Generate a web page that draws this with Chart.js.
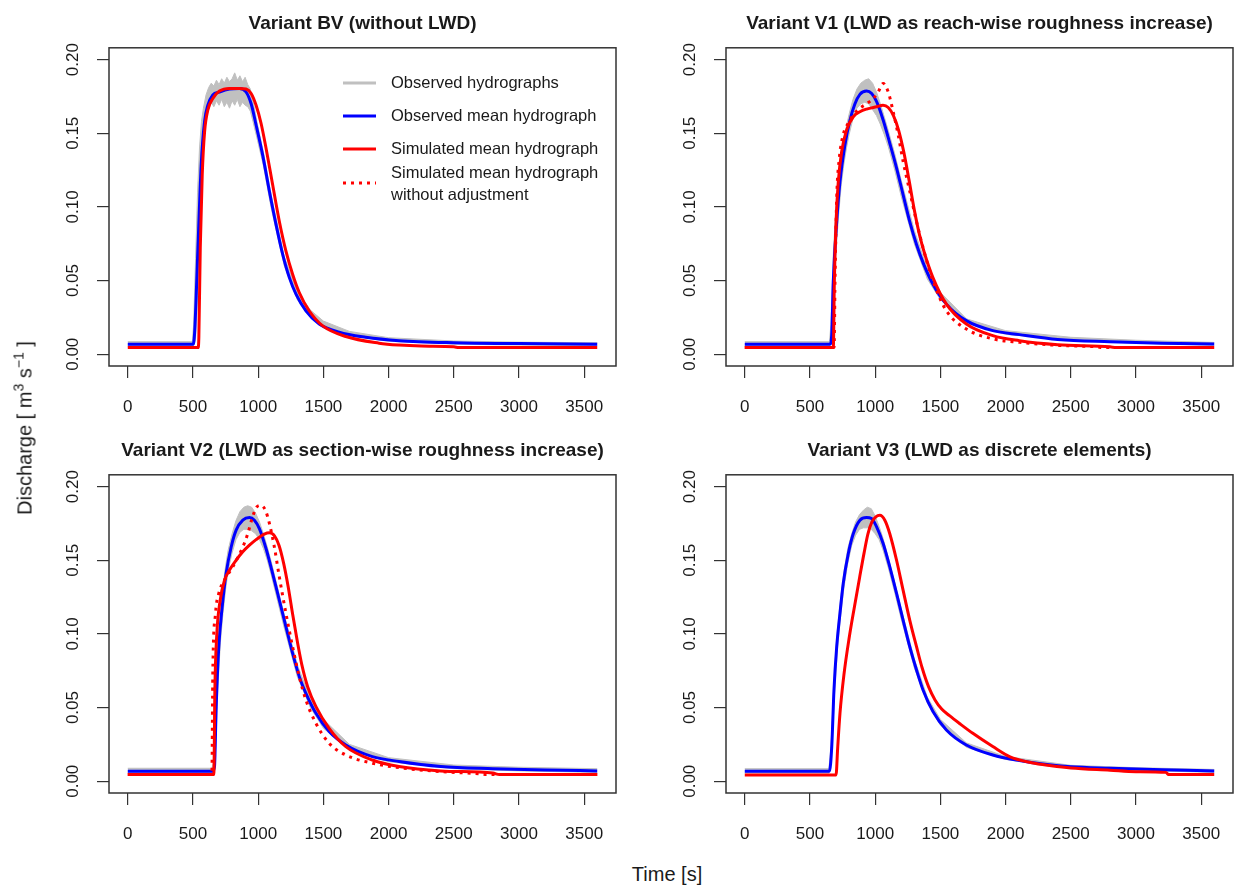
<!DOCTYPE html>
<html>
<head>
<meta charset="utf-8">
<script src="https://cdn.jsdelivr.net/npm/chart.js@4.4.1/dist/chart.umd.min.js"></script>
<style>
  body { margin: 0; background: #fff; width: 1234px; height: 885px; position: relative; overflow: hidden;
         font-family: "Liberation Sans", Arial, sans-serif; color: #1a1a1a; }
  canvas { position: absolute; }
  #yTitle { position: absolute; left: 25px; top: 428px; transform: translate(-50%, -50%) rotate(-90deg);
            font-size: 20px; white-space: nowrap; }
  #yTitle sup { font-size: 0.7em; vertical-align: 0.55em; line-height: 0; }
  #xTitle { position: absolute; left: 667px; top: 874px; transform: translate(-50%, -50%); font-size: 20px; white-space: nowrap; }
</style>
</head>
<body>
<canvas id="pBV" width="617" height="427" style="left:0;top:0"></canvas>
<canvas id="pV1" width="617" height="427" style="left:617px;top:0"></canvas>
<canvas id="pV2" width="617" height="427" style="left:0;top:427px"></canvas>
<canvas id="pV3" width="617" height="427" style="left:617px;top:427px"></canvas>
<div id="yTitle">Discharge [ m<sup>3</sup> s<sup>−1</sup> ]</div>
<div id="xTitle">Time [s]</div>
<script>
// axis ticks (time in s, discharge in m3/s)
const xTicks = [0, 500, 1000, 1500, 2000, 2500, 3000, 3500];
const yTicks = [0, 0.05, 0.10, 0.15, 0.20];

const titles = [
  "Variant BV (without LWD)",
  "Variant V1 (LWD as reach-wise roughness increase)",
  "Variant V2 (LWD as section-wise roughness increase)",
  "Variant V3 (LWD as discrete elements)"
];
const legendLabels = ["Observed hydrographs", "Observed mean hydrograph", "Simulated mean hydrograph",
                      "Simulated mean hydrograph", "without adjustment"];

// ---- Variant BV ----
const bvBandT = [0, 495, 505, 520, 535, 550, 565, 580, 600, 620, 640, 660, 680, 700, 720, 740, 760, 780, 800, 820, 840, 860, 880, 900, 920, 940, 960, 990, 1040, 1100, 1200, 1300, 1400, 1500, 1700, 2000, 2500, 3000, 3600];
const bvBandHi = [0.0085, 0.0085, 0.02, 0.065, 0.11, 0.14, 0.158, 0.167, 0.176, 0.181, 0.184, 0.182, 0.186, 0.183, 0.187, 0.184, 0.188, 0.185, 0.187, 0.191, 0.186, 0.189, 0.185, 0.188, 0.183, 0.18, 0.172, 0.158, 0.137, 0.108, 0.066, 0.043, 0.030, 0.0225, 0.0155, 0.0112, 0.009, 0.0082, 0.0078];
const bvBandLo = [0.005, 0.005, 0.006, 0.01, 0.04, 0.08, 0.12, 0.145, 0.16, 0.166, 0.171, 0.168, 0.172, 0.169, 0.173, 0.168, 0.171, 0.167, 0.172, 0.169, 0.173, 0.168, 0.171, 0.169, 0.168, 0.165, 0.158, 0.147, 0.128, 0.099, 0.060, 0.037, 0.025, 0.0178, 0.0125, 0.0088, 0.0068, 0.0062, 0.0058];
const bvMeanT = [0, 500, 512, 538, 563, 589, 614, 652, 703, 780, 856, 907, 946, 984, 1035, 1086, 1137, 1188, 1239, 1290, 1366, 1468, 1621, 1825, 2080, 2500, 3000, 3600];
const bvMeanQ = [0.0068, 0.0068, 0.0137, 0.0723, 0.1286, 0.158, 0.169, 0.176, 0.178, 0.180, 0.1804, 0.178, 0.170, 0.1556, 0.135, 0.1106, 0.088, 0.0678, 0.052, 0.0408, 0.0295, 0.0205, 0.0149, 0.0115, 0.0092, 0.0078, 0.0072, 0.0068];
const bvSimT = [0, 540, 545, 556, 571, 589, 614, 652, 703, 780, 856, 907, 946, 984, 1022, 1060, 1111, 1162, 1213, 1264, 1315, 1391, 1493, 1672, 1927, 2080, 2250, 2500, 2540, 3600];
const bvSimQ = [0.0045, 0.0045, 0.0115, 0.0723, 0.1218, 0.151, 0.1658, 0.1736, 0.1786, 0.1804, 0.1804, 0.180, 0.177, 0.169, 0.1568, 0.140, 0.115, 0.0903, 0.070, 0.0543, 0.0419, 0.0295, 0.0194, 0.012, 0.0075, 0.0062, 0.0055, 0.005, 0.0045, 0.0045];

// ---- Variant V1 ----
const v1BandT = [0, 650, 660, 670, 680, 700, 720, 740, 760, 780, 800, 830, 860, 890, 920, 950, 980, 1010, 1040, 1070, 1100, 1150, 1200, 1300, 1400, 1500, 1700, 2000, 2500, 3000, 3600];
const v1BandHi = [0.0085, 0.0085, 0.02, 0.045, 0.07, 0.1, 0.12, 0.135, 0.146, 0.155, 0.163, 0.173, 0.18, 0.184, 0.186, 0.187, 0.184, 0.178, 0.170, 0.161, 0.152, 0.136, 0.118, 0.084, 0.058, 0.042, 0.024, 0.016, 0.0115, 0.0095, 0.008];
const v1BandLo = [0.0055, 0.0055, 0.007, 0.012, 0.035, 0.07, 0.095, 0.115, 0.129, 0.140, 0.149, 0.160, 0.167, 0.170, 0.171, 0.170, 0.166, 0.162, 0.156, 0.149, 0.141, 0.125, 0.107, 0.075, 0.051, 0.037, 0.021, 0.0135, 0.0095, 0.0075, 0.006];
const v1MeanT = [0, 654, 667, 679, 705, 730, 768, 807, 845, 883, 934, 973, 1011, 1061, 1112, 1164, 1214, 1265, 1317, 1367, 1443, 1546, 1699, 1902, 2106, 2400, 2800, 3200, 3600];
const v1MeanQ = [0.0068, 0.0068, 0.0137, 0.0498, 0.090, 0.117, 0.142, 0.159, 0.170, 0.1764, 0.1786, 0.177, 0.1714, 0.159, 0.1432, 0.1264, 0.1083, 0.090, 0.0745, 0.0622, 0.0475, 0.034, 0.0228, 0.016, 0.0133, 0.010, 0.0085, 0.0075, 0.007];
const v1SimT = [0, 679, 687, 700, 717, 743, 781, 832, 883, 934, 1011, 1060, 1100, 1140, 1180, 1220, 1260, 1300, 1340, 1380, 1443, 1546, 1699, 1902, 2106, 2400, 2800, 2850, 3600];
const v1SimQ = [0.0045, 0.0045, 0.0498, 0.090, 0.117, 0.1376, 0.1523, 0.1612, 0.1646, 0.1664, 0.168, 0.169, 0.1675, 0.162, 0.152, 0.137, 0.118, 0.098, 0.081, 0.068, 0.052, 0.034, 0.0205, 0.0126, 0.0092, 0.0065, 0.005, 0.0045, 0.0045];
const v1RawT = [0, 685, 692, 705, 725, 755, 794, 832, 883, 934, 985, 1023, 1061, 1100, 1138, 1176, 1214, 1265, 1317, 1367, 1443, 1546, 1699, 1902, 2106, 2400, 2700, 2750, 3600];
const v1RawQ = [0.0045, 0.0045, 0.0498, 0.106, 0.133, 0.149, 0.157, 0.1624, 0.167, 0.170, 0.1736, 0.178, 0.1838, 0.178, 0.1646, 0.149, 0.131, 0.1106, 0.090, 0.0723, 0.0498, 0.0295, 0.0171, 0.0104, 0.0081, 0.006, 0.005, 0.0045, 0.0045];

// ---- Variant V2 ----
const v2BandT = [0, 645, 655, 665, 675, 690, 710, 730, 750, 770, 800, 830, 860, 890, 920, 950, 980, 1010, 1040, 1070, 1100, 1150, 1200, 1300, 1400, 1500, 1700, 2000, 2500, 3000, 3600];
const v2BandHi = [0.0088, 0.0088, 0.012, 0.03, 0.06, 0.09, 0.115, 0.132, 0.146, 0.157, 0.168, 0.177, 0.183, 0.186, 0.187, 0.186, 0.182, 0.176, 0.168, 0.159, 0.149, 0.131, 0.113, 0.079, 0.056, 0.042, 0.025, 0.016, 0.011, 0.0095, 0.0085];
const v2BandLo = [0.0055, 0.0055, 0.0058, 0.007, 0.025, 0.062, 0.094, 0.114, 0.13, 0.143, 0.155, 0.164, 0.169, 0.171, 0.171, 0.170, 0.168, 0.164, 0.158, 0.150, 0.140, 0.122, 0.104, 0.071, 0.050, 0.036, 0.021, 0.0132, 0.0085, 0.007, 0.006];
const v2MeanT = [0, 652, 665, 678, 698, 724, 754, 793, 831, 882, 933, 971, 1009, 1060, 1111, 1162, 1213, 1264, 1315, 1366, 1443, 1544, 1672, 1876, 2080, 2400, 2800, 3200, 3600];
const v2MeanQ = [0.0068, 0.0068, 0.010, 0.0506, 0.0913, 0.1184, 0.141, 0.159, 0.1704, 0.1772, 0.179, 0.1772, 0.1715, 0.158, 0.141, 0.123, 0.1048, 0.0868, 0.071, 0.0597, 0.0461, 0.0337, 0.0246, 0.0167, 0.0134, 0.010, 0.0085, 0.0076, 0.007];
const v2SimT = [0, 660, 668, 683, 709, 742, 780, 831, 882, 933, 984, 1047, 1086, 1125, 1160, 1195, 1230, 1265, 1300, 1335, 1380, 1443, 1544, 1672, 1876, 2080, 2400, 2800, 2850, 3600];
const v2SimQ = [0.0045, 0.0045, 0.0626, 0.1003, 0.123, 0.1365, 0.1433, 0.150, 0.1557, 0.1602, 0.164, 0.1677, 0.1686, 0.1665, 0.160, 0.148, 0.132, 0.113, 0.095, 0.079, 0.064, 0.0506, 0.0359, 0.0235, 0.0144, 0.010, 0.007, 0.0055, 0.0045, 0.0045];
const v2RawT = [0, 645, 652, 673, 698, 742, 805, 882, 920, 953, 989, 1022, 1055, 1086, 1124, 1162, 1213, 1264, 1315, 1366, 1443, 1544, 1672, 1876, 2080, 2400, 2700, 2750, 3600];
const v2RawQ = [0.0045, 0.0045, 0.0732, 0.1139, 0.1275, 0.1365, 0.1455, 0.159, 0.168, 0.1783, 0.1862, 0.1873, 0.184, 0.175, 0.159, 0.1388, 0.1139, 0.0913, 0.071, 0.0551, 0.0393, 0.0258, 0.0178, 0.0122, 0.0092, 0.0065, 0.005, 0.0045, 0.0045];

// ---- Variant V3 ----
const v3BandT = [0, 645, 660, 675, 690, 710, 730, 760, 790, 820, 850, 880, 910, 940, 970, 1000, 1030, 1060, 1100, 1150, 1200, 1300, 1400, 1500, 1700, 2000, 2500, 3000, 3600];
const v3BandHi = [0.0085, 0.0085, 0.022, 0.05, 0.078, 0.103, 0.12, 0.142, 0.158, 0.168, 0.176, 0.181, 0.184, 0.186, 0.185, 0.180, 0.173, 0.165, 0.152, 0.135, 0.117, 0.083, 0.057, 0.042, 0.026, 0.0168, 0.0108, 0.0092, 0.008];
const v3BandLo = [0.0055, 0.0055, 0.012, 0.035, 0.062, 0.089, 0.108, 0.131, 0.148, 0.160, 0.167, 0.171, 0.172, 0.172, 0.171, 0.168, 0.164, 0.157, 0.145, 0.128, 0.110, 0.077, 0.053, 0.038, 0.023, 0.0148, 0.0088, 0.0074, 0.006];
const v3MeanT = [0, 649, 667, 684, 705, 730, 755, 794, 832, 883, 934, 972, 1011, 1061, 1112, 1164, 1214, 1265, 1317, 1367, 1443, 1546, 1699, 1902, 2106, 2300, 2500, 2800, 3200, 3600];
const v3MeanQ = [0.0068, 0.0068, 0.0235, 0.0619, 0.0913, 0.1139, 0.1342, 0.1546, 0.168, 0.1772, 0.179, 0.1783, 0.1727, 0.1614, 0.1455, 0.1275, 0.1094, 0.0913, 0.0755, 0.0619, 0.0473, 0.0348, 0.0246, 0.0178, 0.014, 0.0115, 0.0098, 0.0088, 0.0078, 0.007];
const v3SimT = [0, 700, 712, 730, 760, 800, 840, 880, 915, 945, 975, 1005, 1036, 1074, 1112, 1164, 1214, 1265, 1317, 1360, 1410, 1460, 1510, 1570, 1650, 1749, 1902, 2030, 2200, 2350, 2500, 2800, 3000, 3230, 3250, 3600];
const v3SimQ = [0.0043, 0.0043, 0.022, 0.046, 0.072, 0.097, 0.118, 0.138, 0.155, 0.168, 0.176, 0.1795, 0.1805, 0.1772, 0.168, 0.150, 0.1297, 0.1094, 0.0913, 0.077, 0.064, 0.055, 0.049, 0.0445, 0.039, 0.0325, 0.0235, 0.0167, 0.0125, 0.0105, 0.009, 0.0075, 0.0065, 0.006, 0.0045, 0.0045];

const FONT = '"Liberation Sans", Arial, sans-serif';
const INK = '#1a1a1a';
const GRAY = '#c0c0c0';

function pts(t, q) {
  return t.map((v, i) => ({ x: v, y: q[i] }));
}

function buildSets(bandT, hi, lo, meanT, meanQ, simT, simQ, rawT, rawQ) {
  const sets = [
    { data: pts(bandT, hi), borderColor: GRAY, backgroundColor: GRAY, borderWidth: 1, fill: '+1', tension: 0, order: 5 },
    { data: pts(bandT, lo), borderColor: GRAY, borderWidth: 1, fill: false, tension: 0, order: 5 },
    { data: pts(meanT, meanQ), borderColor: '#0000ff', borderWidth: 3, fill: false, cubicInterpolationMode: 'monotone', order: 3 },
    { data: pts(simT, simQ), borderColor: '#ff0000', borderWidth: 3, fill: false, cubicInterpolationMode: 'monotone', order: 2 }
  ];
  if (rawT) {
    sets.push({ data: pts(rawT, rawQ), borderColor: '#ff0000', borderWidth: 3, borderDash: [3, 5], fill: false,
                cubicInterpolationMode: 'monotone', order: 1 });
  }
  sets.forEach(s => { s.pointRadius = 0; s.borderCapStyle = 'butt'; });
  return sets;
}

// frame around the plot region, as R's box()
const boxPlugin = {
  id: 'rBox',
  afterDraw(chart) {
    const a = chart.chartArea, ctx = chart.ctx;
    ctx.save();
    ctx.strokeStyle = '#333';
    ctx.lineWidth = 1.5;
    ctx.strokeRect(a.left, a.top, a.right - a.left, a.bottom - a.top);
    ctx.restore();
  }
};

// legend in the first panel
const legendPlugin = {
  id: 'rLegend',
  afterDraw(chart, args, opts) {
    if (!opts.show) return;
    const ctx = chart.ctx;
    const x0 = 343, x1 = 376, tx = 391;
    const rows = [
      { y: 83, color: GRAY, w: 3, dash: [] },
      { y: 116, color: '#0000ff', w: 3, dash: [] },
      { y: 149, color: '#ff0000', w: 3, dash: [] },
      { y: 183, color: '#ff0000', w: 3, dash: [3, 5] }
    ];
    ctx.save();
    rows.forEach(r => {
      ctx.beginPath();
      ctx.strokeStyle = r.color;
      ctx.lineWidth = r.w;
      ctx.setLineDash(r.dash);
      ctx.moveTo(x0, r.y);
      ctx.lineTo(x1, r.y);
      ctx.stroke();
    });
    ctx.setLineDash([]);
    ctx.fillStyle = INK;
    ctx.font = '16.5px ' + FONT;
    ctx.textBaseline = 'middle';
    ctx.textAlign = 'left';
    const ty = [83, 116, 149, 173, 195];
    legendLabels.forEach((l, i) => ctx.fillText(l, tx, ty[i]));
    ctx.restore();
  }
};

function makeChart(id, title, sets, showLegend) {
  const tickGrid = { drawOnChartArea: false, drawTicks: true, tickLength: 12, color: '#333', lineWidth: 1.2 };
  return new Chart(document.getElementById(id), {
    type: 'line',
    data: { datasets: sets },
    options: {
      responsive: false,
      animation: false,
      devicePixelRatio: 1,
      layout: { padding: { right: 1 } },
      plugins: {
        legend: { display: false },
        tooltip: { enabled: false },
        title: { display: true, text: title, fullSize: false, color: INK,
                 font: { family: FONT, size: 19, weight: 'bold' }, padding: { top: 12, bottom: 13 } },
        rLegend: { show: showLegend }
      },
      scales: {
        x: {
          type: 'linear', min: -144, max: 3744,
          afterBuildTicks: s => { s.ticks = xTicks.map(v => ({ value: v })); },
          afterFit: s => { s.height = 61; s.paddingLeft = 0; s.paddingRight = 0; },
          grid: tickGrid,
          border: { display: false },
          ticks: { font: { family: FONT, size: 17 }, color: INK, padding: 19, maxRotation: 0, autoSkip: false,
                   callback: v => String(v) }
        },
        y: {
          type: 'linear', min: -0.008, max: 0.208,
          afterBuildTicks: s => { s.ticks = yTicks.map(v => ({ value: v })); },
          afterFit: s => { s.width = 109; s.paddingTop = 0; s.paddingBottom = 0; },
          grid: tickGrid,
          border: { display: false },
          ticks: { font: { family: FONT, size: 17 }, color: INK, padding: 7, minRotation: 90, maxRotation: 90,
                   crossAlign: 'center', autoSkip: false, callback: v => v.toFixed(2) }
        }
      }
    },
    plugins: [boxPlugin, legendPlugin]
  });
}

makeChart('pBV', titles[0], buildSets(bvBandT, bvBandHi, bvBandLo, bvMeanT, bvMeanQ, bvSimT, bvSimQ), true);
makeChart('pV1', titles[1], buildSets(v1BandT, v1BandHi, v1BandLo, v1MeanT, v1MeanQ, v1SimT, v1SimQ, v1RawT, v1RawQ), false);
makeChart('pV2', titles[2], buildSets(v2BandT, v2BandHi, v2BandLo, v2MeanT, v2MeanQ, v2SimT, v2SimQ, v2RawT, v2RawQ), false);
makeChart('pV3', titles[3], buildSets(v3BandT, v3BandHi, v3BandLo, v3MeanT, v3MeanQ, v3SimT, v3SimQ), false);
</script>
</body>
</html>
